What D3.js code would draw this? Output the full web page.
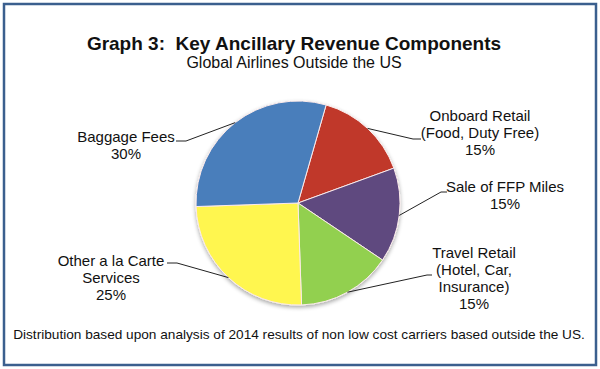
<!DOCTYPE html>
<html><head><meta charset="utf-8">
<script src="https://cdn.jsdelivr.net/npm/d3@7"></script>
<style>body{margin:0;background:#fff}svg{display:block}text{font-family:"Liberation Sans",Arial,sans-serif;fill:#111}</style>
</head><body>
<svg id="c" width="600" height="369"></svg>
<script>
const categories = ["Onboard Retail|(Food, Duty Free)", "Sale of FFP Miles", "Travel Retail|(Hotel, Car,|Insurance)", "Other a la Carte|Services", "Baggage Fees"];
const values = [15, 15, 15, 25, 30];
const colors = ["#c0392b", "#5e4a7f", "#92d050", "#fff64f", "#4a7ebb"];
// label anchor (centre x, first baseline) and leader elbow
const labelPos = [
  {x:480, y:121, lineEnd:[421,139], elbow:[413,139], edgeFrac:0.5},
  {x:505, y:192, lineEnd:[447,192], elbow:[441,192], edgeFrac:0.5},
  {x:474, y:258, lineEnd:[432,275], elbow:[427,275], edgeFrac:0.5},
  {x:111, y:266, lineEnd:[167,263], elbow:[177,263], edgeFrac:0.5},
  {x:126, y:142, lineEnd:[176,141], elbow:[186,141], edgeFrac:0.5}
];
const svg = d3.select("#c");
const cx = 298, cy = 203, R = 102;

svg.append("rect").attr("x",4).attr("y",4).attr("width",592).attr("height",361)
  .attr("fill","#fff").attr("stroke","#3b5f8e").attr("stroke-width",2.5);

svg.append("text").attr("x",294).attr("y",50).attr("text-anchor","middle")
  .attr("font-size",19).attr("font-weight","bold").text("Graph 3:\u00a0\u00a0Key Ancillary Revenue Components");
svg.append("text").attr("x",294).attr("y",68).attr("text-anchor","middle")
  .attr("font-size",16).text("Global Airlines Outside the US");
svg.append("text").attr("x",299).attr("y",339).attr("text-anchor","middle")
  .attr("font-size",13.65).text("Distribution based upon analysis of 2014 results of non low cost carriers based outside the US.");

const defs = svg.append("defs");
const f = defs.append("filter").attr("id","sh").attr("x","-20%").attr("y","-20%").attr("width","140%").attr("height","140%");
f.append("feGaussianBlur").attr("in","SourceAlpha").attr("stdDeviation",2);
f.append("feOffset").attr("dx",0).attr("dy",2).attr("result","b");
f.append("feComponentTransfer").append("feFuncA").attr("type","linear").attr("slope",0.35);
const m = f.append("feMerge"); m.append("feMergeNode"); m.append("feMergeNode").attr("in","SourceGraphic");

const pie = d3.pie().sort(null).value(d=>d).startAngle(16*Math.PI/180).endAngle(16*Math.PI/180+2*Math.PI);
const arcs = pie(values);
const arc = d3.arc().innerRadius(0).outerRadius(R);
const g = svg.append("g").attr("transform",`translate(${cx},${cy})`).attr("filter","url(#sh)");
g.selectAll("path").data(arcs).join("path").attr("d",arc)
  .attr("fill",(d,i)=>colors[i]).attr("stroke","#fbeaea").attr("stroke-width",1);

arcs.forEach((a,i)=>{
  const lp = labelPos[i];
  const ang = a.startAngle + (a.endAngle-a.startAngle)*lp.edgeFrac;
  const ex = cx + R*Math.sin(ang), ey = cy - R*Math.cos(ang);
  svg.append("polyline").attr("points",`${ex},${ey} ${lp.elbow[0]},${lp.elbow[1]} ${lp.lineEnd[0]},${lp.lineEnd[1]}`)
    .attr("fill","none").attr("stroke","#222").attr("stroke-width",1);
  const lines = categories[i].split("|").concat([values[i]+"%"]);
  const t = svg.append("text").attr("text-anchor","middle").attr("font-size",15);
  lines.forEach((s,k)=>t.append("tspan").attr("x",lp.x).attr("y",lp.y+k*17).text(s));
});
</script>
</body></html>
